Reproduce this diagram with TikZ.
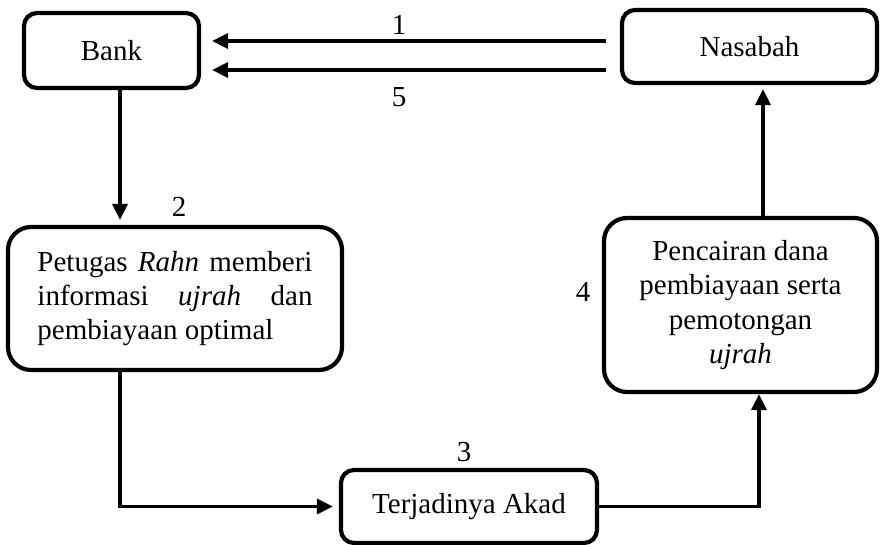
\documentclass[tikz,border=0pt]{standalone}
\usepackage{fontspec}
\setmainfont{Liberation Serif}
\usetikzlibrary{arrows.meta,positioning,calc}

\begin{document}
\begin{tikzpicture}[x=0.5pt,y=-0.5pt,
  every node/.style={font=\fontsize{14.5}{17.2}\selectfont},
  box/.style={draw,line width=2.1pt,rounded corners=6.5pt,inner sep=0pt,align=center},
  flow/.style={line width=1.7pt,-{Triangle[length=8pt,width=7.5pt]}}]
\useasboundingbox (0,0) rectangle (880,545);

\node[box,minimum width=87.5pt,minimum height=37.5pt] (bank) at (111.5,50.5) {Bank};
\node[box,minimum width=127.5pt,minimum height=36.5pt] (nasabah) at (749.5,46.5) {Nasabah};
\node[box,rounded corners=11.5pt,minimum width=167pt,minimum height=71.5pt,
  text width=137.5pt,align=justify] (petugas) at (175,298.5)
  {Petugas \textit{Rahn} memberi\linebreak informasi \textit{ujrah} dan\linebreak pembiayaan optimal};
\node[box,rounded corners=11.5pt,minimum width=136.5pt,minimum height=87pt] (pencairan) at (740.5,305)
  {Pencairan dana\\pembiayaan serta\\pemotongan\\\textit{ujrah}};
\node[box,minimum width=128pt,minimum height=36.5pt] (akad) at (469,506.5) {Terjadinya Akad};

\coordinate (r1) at (0,41);
\coordinate (r5) at (0,70);
\coordinate (c2) at (120,0);
\coordinate (c4) at (759,0);
\coordinate (c5) at (763,0);

\draw[flow,shorten <=7pt,shorten >=5.5pt] (nasabah.west |- r1) -- (bank.east |- r1);
\draw[flow,shorten <=7pt,shorten >=5.5pt] (nasabah.west |- r5) -- (bank.east |- r5);
\draw[flow,shorten >=2.5pt] (bank.south -| c2) -- (petugas.north -| c2);
\draw[flow,shorten >=3pt] (petugas.south -| c2) |- (akad.west);
\draw[flow] (akad.east) -| (pencairan.south -| c4);
\draw[flow,shorten >=2pt] (pencairan.north -| c5) -- (nasabah.south -| c5);

\node (n1) at (399,25) {1};
\node (n2) at (179,207) {2};
\node (n3) at (464,452) {3};
\node (n4) at (583,292) {4};
\node (n5) at (399,97) {5};
\end{tikzpicture}
\end{document}
